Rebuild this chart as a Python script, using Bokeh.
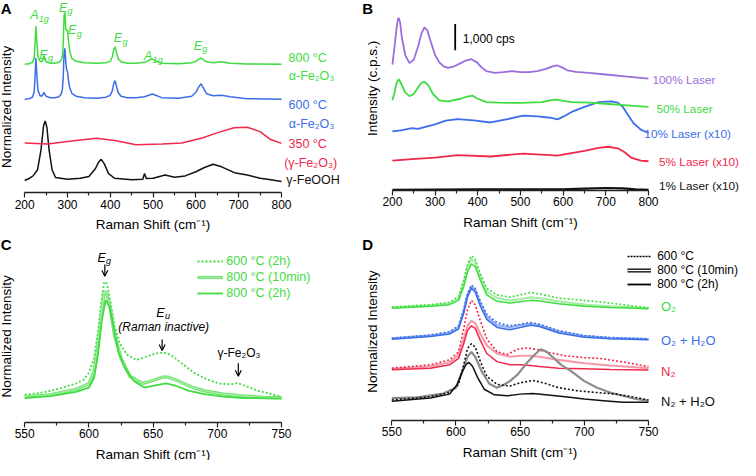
import math
from bokeh.plotting import figure
from bokeh.models import Label, Arrow, OpenHead, Legend, LegendItem, FixedTicker, Range1d
from bokeh.layouts import column, row
from bokeh.embed import file_html
from bokeh.resources import INLINE

FONT = "Liberation Sans"
GREEN = "#3fdc3f"; BLUE = "#3c6ee8"; RED = "#f0284a"; PURPLE = "#9b6edc"; BLACK = "#111111"
LGREEN = "#a6eea6"; LBLUE = "#8fb0f2"; LRED = "#f59aab"; GREY = "#8c8c8c"

# ---------------- Panel A data (normalized intensity, relative to each trace's baseline) ----
a_x_hem = [200, 210, 218, 222, 224, 226, 228, 231, 236, 240, 243, 245, 247, 250, 260, 270, 280, 285, 288, 290,
           292, 294, 296, 298, 300, 302, 305, 310, 320, 340, 370, 390, 400, 405, 408, 411, 414, 418, 425, 440,
           460, 480, 490, 498, 506, 520, 560, 590, 600, 606, 612, 618, 625, 640, 660, 680, 720, 800]
a_i_800 = [0, 0.5, 2, 6, 18, 39, 26, 8, 3, 2.5, 5, 9, 5, 2.5, 1, 1, 2, 4, 8, 20,
           50, 53, 36, 34, 35, 25, 14, 6, 3, 1.5, 1, 1.5, 3, 8, 15, 18, 13, 6, 2.5, 1,
           1, 2, 4, 5.5, 3.5, 1, 0.5, 1.5, 3, 5, 6.3, 4.5, 2.5, 1.5, 2.5, 1, 0.3, 0]
a_i_600 = [0, 0.5, 2, 7, 20, 42, 28, 9, 3.5, 3, 5, 7, 5, 3, 1.5, 1.5, 2.5, 5, 10, 22,
           48, 52, 38, 30, 28, 20, 12, 6, 3, 1.5, 1, 2, 4, 9, 16, 19, 14, 7, 3, 1.5,
           1.5, 2.5, 4, 5.3, 4, 1.5, 1, 3, 7, 12, 15.7, 11, 5.5, 3.5, 4, 2.5, 0.5, 0]
a_x_350 = [200, 253, 315, 368, 414, 460, 521, 567, 613, 651, 689, 720, 750, 773, 800]
a_i_350 = [0, -1, 2.3, 5, 2.3, -1.7, -1, 0, 5, 10.7, 15.7, 16.3, 11.7, 4, -0.3]
a_x_feooh = [200, 210, 220, 230, 238, 244, 248, 252, 257, 264, 272, 300, 330, 350, 365, 373, 379, 386, 396, 410,
             450, 476, 480, 484, 500, 528, 550, 575, 600, 620, 640, 660, 690, 720, 750, 775, 800]
a_i_feooh = [0, 2, 5, 11, 31, 56, 61, 54, 31, 11, 3, 1.3, 2.3, 4, 12, 19, 21.7, 17, 7, 2.3,
             0.7, 1.3, 7.3, 2, 2.3, 5.7, 3.3, 4.7, 9, 13.3, 16.7, 14, 8, 5.7, 2.3, 0.7, -1]
a_offsets = {"800": 131.7, "600": 96, "350": 51, "feooh": 12.7}

# ---------------- Panel B data (counts per second as displayed) ----------------
b_x_100 = [200, 205, 210, 213, 215, 218, 222, 230, 240, 250, 260, 268, 275, 282, 290, 300, 310, 320, 330, 345,
           360, 372, 385, 398, 410, 420, 440, 460, 480, 500, 520, 540, 560, 575, 585, 595, 610, 630, 660, 700,
           750, 800]
b_c_100 = [4750, 5430, 6170, 6480, 6520, 6360, 5800, 5120, 4810, 4940, 5430, 5930, 6170, 6050, 5620, 5120, 4840, 4690, 4630, 4690,
           4810, 4910, 4960, 4840, 4630, 4510, 4440, 4470, 4510, 4470, 4470, 4510, 4590, 4690, 4730, 4670, 4540, 4480, 4440, 4380,
           4300, 4220]
b_x_50 = [200, 205, 210, 215, 220, 230, 240, 250, 260, 268, 276, 285, 295, 310, 330, 360, 375, 387, 400, 420,
          450, 500, 550, 575, 585, 600, 620, 660, 700, 750, 800]
b_c_50 = [3400, 3700, 4070, 4200, 4050, 3700, 3560, 3640, 3890, 4070, 4100, 3950, 3640, 3400, 3360, 3460, 3540, 3580, 3460, 3330,
          3310, 3300, 3330, 3420, 3430, 3380, 3330, 3310, 3270, 3210, 3150]
b_x_10 = [200, 220, 246, 260, 275, 300, 325, 353, 390, 430, 470, 506, 540, 570, 587, 600, 620, 650, 683, 713,
          728, 740, 752, 765, 782, 800]
b_c_10 = [2220, 2260, 2350, 2320, 2380, 2490, 2630, 2690, 2640, 2560, 2690, 2820, 2790, 2740, 2680, 2780, 2960, 3150, 3330, 3360,
          3310, 3150, 2840, 2530, 2290, 2160]
b_x_5 = [200, 246, 300, 353, 430, 506, 560, 587, 606, 650, 683, 705, 728, 745, 759, 782, 800]
b_c_5 = [1110, 1170, 1230, 1320, 1270, 1380, 1330, 1300, 1360, 1480, 1600, 1640, 1580, 1420, 1230, 1110, 1090]
b_x_1 = [200, 400, 600, 650, 700, 740, 770, 800]
b_c_1 = [10, 25, 25, 50, 75, 60, 25, 10]
b_scale_cps = 1000
CPS_PER_PX = 1000 / 27   # scale-bar calibration of panel B (1,000 cps bar height)

# ---------------- Panel C data ----------------
c_x_600 = [550, 560, 570, 578, 583, 590, 596, 600, 604, 607, 610, 612, 614, 617, 620, 624, 630, 637, 645, 652,
           658, 664, 672, 682, 692, 702, 710, 716, 722, 732, 742, 750]
c_i_600 = [28.3, 29.7, 32.3, 35, 37.3, 39.7, 44, 50.7, 65.7, 92.3, 127.3, 144, 142.3, 122.3, 99, 80.7, 69, 64, 67.3, 70.7,
           71.7, 69, 60.7, 50.7, 44, 39.7, 39, 40.3, 37.3, 32.3, 29, 26.3]
c_x_10m = [550, 570, 590, 600, 604, 607, 610, 612, 614, 617, 620, 625, 632, 642, 650, 657, 662, 670, 680, 690, 705, 720, 735, 750]
c_i_10m = [26.3, 28.3, 34, 39.7, 52.3, 79, 114, 134, 132.3, 114, 89, 65.7, 47, 40, 43, 46.3, 46.3, 42.3, 36.3, 32.3, 29, 27.3, 25.7, 25.3]
c_x_2h = [550, 570, 590, 600, 604, 607, 610, 613, 616, 619, 623, 628, 635, 643, 650, 660, 668, 678, 690, 705, 720, 750]
c_i_2h = [25, 27, 31.3, 35.7, 45.7, 69, 104, 125, 119, 99, 72.3, 55.7, 42.3, 35.7, 37.3, 40, 37.3, 32.3, 29, 26.3, 25, 24.3]
c_legend = ["600 °C (2h)", "800 °C (10min)", "800 °C (2h)"]

# ---------------- Panel D data (stacked normalized intensity) ----------------
d_x20 = [550, 580, 595, 602, 606, 609, 612, 615, 619, 624, 632, 642, 650, 658, 665, 680, 700, 720, 735, 750]
d_x19 = [550, 580, 595, 602, 606, 609, 612, 615, 619, 624, 632, 642, 650, 658, 665, 680, 700, 720, 750]
d_o2_600 = [116, 118.3, 120.7, 126.7, 143.3, 160, 168.3, 165, 150, 135, 128.3, 126, 128.3, 130.7, 129.3, 125, 122.7, 120, 117.3, 115]
d_o2_10m = [115.3, 117.3, 119.3, 124, 140, 156.7, 165, 161.7, 146.7, 131.7, 125, 122.7, 124, 125.7, 125, 121.7, 118.3, 116.7, 114.7]
d_o2_2h = [114.7, 116.7, 118.3, 122.7, 136.7, 151.7, 160, 157.3, 143.3, 128.3, 121.7, 120, 121.3, 122.7, 122, 119.3, 116.7, 115.3, 114]
d_o2w_600 = [84, 87.3, 90.7, 96.7, 113.3, 130, 138.3, 135, 121.7, 108.3, 100, 96.7, 98.3, 100, 98.3, 91.7, 86.7, 84.7, 83.3]
d_o2w_10m = [83.7, 86.7, 89.3, 95, 111.7, 128.3, 136.7, 133.3, 119.3, 106, 97.3, 95, 97.3, 98.7, 97.3, 90.7, 86, 84, 83]
d_o2w_2h = [83, 85.7, 88.3, 93.3, 109.3, 126, 135, 131.3, 116.7, 103.3, 95, 92.7, 95, 97.3, 96, 89.3, 85, 83.3, 82.3]
d_x_n2_600 = [550, 580, 595, 602, 606, 609, 612, 615, 619, 624, 632, 640, 648, 655, 662, 670, 685, 700, 712, 725, 740, 750]
d_n2_600 = [53.3, 56.7, 61.7, 70, 93.3, 113.3, 122.7, 118.3, 101.7, 83.3, 70, 67.3, 72.7, 74, 72.7, 70, 66, 64, 63.3, 60.7, 57.3, 55]
d_n2_10m = [52.7, 55, 59.3, 66.7, 83.3, 96.7, 101.7, 99.3, 88.3, 76.7, 68.3, 65, 66, 66, 65, 61.7, 58.3, 56, 53.3]
d_n2_2h = [51.7, 53.3, 56.7, 63.3, 78.3, 91.7, 96.7, 94, 81.7, 68.3, 60, 56.7, 56.7, 56, 55, 53.3, 52.7, 52, 51.3]
d_x_n2w_600 = [550, 580, 595, 602, 606, 609, 612, 615, 619, 624, 632, 642, 650, 660, 668, 680, 695, 710, 725, 740, 750]
d_n2w_600 = [20.7, 24, 28.3, 36.7, 56.7, 73.3, 78.3, 75, 60, 45, 36.7, 35, 38.3, 40.7, 38.3, 33.3, 30, 28.3, 26.7, 23.3, 20.7]
d_x_n2w_10m = [550, 570, 590, 600, 605, 609, 612, 615, 620, 626, 632, 637, 642, 648, 655, 661, 666, 670, 675, 682,
               690, 700, 710, 720, 730, 740, 750]
d_n2w_10m = [22.7, 23.3, 27.3, 33.3, 50, 65, 70, 65, 50, 37.3, 33.3, 36, 40, 46.7, 58.3, 66.7, 72.7, 70.7, 65, 56.7,
             50, 40, 33.3, 28.3, 25, 21.7, 20]
d_x_n2w_2h = [550, 580, 595, 601, 605, 608, 610, 613, 617, 622, 630, 640, 650, 660, 670, 685, 700, 715, 730, 750]
d_n2w_2h = [19.3, 22.7, 26.7, 36.7, 50, 57.3, 59.3, 55, 43.3, 31.7, 26, 25, 26.7, 27.3, 26, 24, 21.7, 20, 18.3, 18.3]
d_legend = ["600 °C", "800 °C (10min)", "800 °C (2h)"]

# ---------------- layout helpers ----------------
# mapping of reference-picture pixels to our 740x460 canvas
SX, OX0 = 740 / 754, 2
SY, OY0 = 460 / 471, 3


def make_panel(x0, x1, y1, col0, row0, W, H, L, R, B, majors, minors):
    # the frame covers the whole figure; x0..x1 sit at local px L..R, y=0 at local px B (axis), y1 at top
    ux = (x1 - x0) / (R - L)
    uy = y1 / B
    xr0, xr1 = x0 - L * ux, x1 + (W - R) * ux
    yr0 = -(H - B) * uy
    g = dict(xr0=xr0, xr1=xr1, yr1=y1, ux=ux, uy=uy, col0=col0, row0=row0, H=H)
    p = figure(frame_width=W, frame_height=H, x_range=Range1d(xr0, xr1), y_range=Range1d(yr0, y1),
               output_backend="svg", toolbar_location=None, y_axis_location=None,
               min_border_left=0, min_border_right=0, min_border_top=0, min_border_bottom=0)
    p.outline_line_color = None
    p.grid.grid_line_color = None
    ax = p.xaxis[0]
    ax.fixed_location = 0
    ax.bounds = (x0, x1)
    ax.ticker = FixedTicker(ticks=majors, minor_ticks=minors)
    ax.axis_label = "Raman Shift (cm⁻¹)"
    ax.axis_label_text_font = FONT
    ax.axis_label_text_font_size = "13.5px"
    ax.axis_label_text_font_style = "normal"
    ax.axis_label_text_color = "black"
    ax.major_label_text_font = FONT
    ax.major_label_text_font_size = "12px"
    ax.major_label_text_color = "black"
    ax.major_tick_in = 0
    ax.major_tick_out = 5
    ax.minor_tick_in = 0
    ax.minor_tick_out = 3
    ax.axis_line_width = 1.5
    ax.axis_line_color = "#222222"
    ax.major_tick_line_width = 1.2
    ax.minor_tick_line_width = 1.2
    ax.major_tick_line_color = "#222222"
    ax.minor_tick_line_color = "#222222"
    ax.major_label_standoff = 2
    ax.axis_label_standoff = 5
    return p, g


def cxy(g, ox, oy):
    return (ox - OX0) * SX - g["col0"], (oy - OY0) * SY - g["row0"]


def to_data(g, ox, oy):
    cx, cy = cxy(g, ox, oy)
    return g["xr0"] + cx * g["ux"], g["yr1"] - cy * g["uy"]


def lab(p, g, text, ox, oy, color, size="12px", align="center", style="normal", angle=0.0):
    x, y = to_data(g, ox, oy)
    p.add_layout(Label(x=x, y=y, text=text, text_color=color, text_font=FONT, text_font_size=size,
                       text_align=align, text_baseline="middle", text_font_style=style, angle=angle))


def sublab(p, g, main, sub, ox, oy, color):
    lab(p, g, main, ox, oy, color, size="12.5px", align="right", style="italic")
    lab(p, g, sub, ox + 0.3, oy + 3.5, color, size="9px", align="left", style="italic")


def arrow(p, g, ox, oy0, oy1):
    xs, ys = to_data(g, ox, oy0)
    xe, ye = to_data(g, ox, oy1)
    p.add_layout(Arrow(x_start=xs, y_start=ys, x_end=xe, y_end=ye, line_width=1.2, line_color="black",
                       end=OpenHead(size=6, line_width=1.2, line_color="black")))


def legend_loc(g, ox, oy_bottom):
    # legend location is measured from the frame's bottom-left corner
    cx, cy = cxy(g, ox, oy_bottom)
    return (cx, g["H"] - cy)


def proxy(p, g, **kw):
    # legend-only line placed outside the visible ranges
    x = g["xr1"] + 10
    return p.line([x, x + 1], [0, 0], **kw)


maj_ab = [200, 300, 400, 500, 600, 700, 800]
min_ab = [250, 350, 450, 550, 650, 750]
maj_cd = [550, 600, 650, 700, 750]
min_cd = [575, 625, 675, 725]

# ---------------- Panel A ----------------
pA, gA = make_panel(200, 800, 197, 0, 0, 360, 232, 24.2, 281.0, 192.4, maj_ab, min_ab)
pA.line(a_x_feooh, [v + a_offsets["feooh"] for v in a_i_feooh], line_color=BLACK, line_width=1.5)
pA.line(a_x_350, [v + a_offsets["350"] for v in a_i_350], line_color=RED, line_width=1.5)
pA.line(a_x_hem, [v + a_offsets["600"] for v in a_i_600], line_color=BLUE, line_width=1.5)
pA.line(a_x_hem, [v + a_offsets["800"] for v in a_i_800], line_color=GREEN, line_width=1.5)
for m, s, ox, oy in [("A", "1g", 40.7, 18.3), ("E", "g", 50, 58.3), ("E", "g", 70, 10.5), ("E", "g", 79.3, 33.5),
                     ("E", "g", 126, 41.7), ("A", "1g", 156.7, 60), ("E", "g", 207.3, 49.5)]:
    sublab(pA, gA, m, s, ox, oy, GREEN)
for t, ox, oy, c in [("800 °C", 315, 62, GREEN), ("α-Fe₂O₃", 319, 80.5, GREEN),
                     ("600 °C", 315, 110, BLUE), ("α-Fe₂O₃", 319, 129, BLUE),
                     ("350 °C", 315, 150, RED), ("(γ-Fe₂O₃)", 318, 169, RED),
                     ("γ-FeOOH", 320.5, 187, BLACK)]:
    lab(pA, gA, t, ox, oy, c, size="12.5px")
lab(pA, gA, "Normalized Intensity", 8.5, 112, "black", size="13.5px", angle=math.pi / 2)
lab(pA, gA, "A", 7.7, 11.3, "black", size="15px", style="bold")

# ---------------- Panel B ----------------
pB, gB = make_panel(200, 800, 194 * CPS_PER_PX, 360, 0, 380, 232, 31.9, 288.0, 189.5, maj_ab, min_ab)
pB.line(b_x_1, b_c_1, line_color=BLACK, line_width=2.2)
pB.line(b_x_5, b_c_5, line_color=RED, line_width=1.8)
pB.line(b_x_10, b_c_10, line_color=BLUE, line_width=1.8)
pB.line(b_x_50, b_c_50, line_color=GREEN, line_width=1.8)
pB.line(b_x_100, b_c_100, line_color=PURPLE, line_width=1.8)
bx, by = to_data(gB, 465.3, 54)
pB.segment(x0=[bx], y0=[by], x1=[bx], y1=[by + b_scale_cps], line_color="black", line_width=1.8)
lab(pB, gB, "1,000 cps", 473, 42, "black", size="12px", align="left")
for t, ox, oy, c in [("100% Laser", 666.3, 84.3, PURPLE), ("50% Laser", 670.3, 114, GREEN),
                     ("10% Laser (x10)", 658, 139.3, BLUE), ("5% Laser (x10)", 673, 168.3, RED),
                     ("1% Laser (x10)", 673, 192.7, BLACK)]:
    lab(pB, gB, t, ox, oy, c, size="11.8px", align="left")
lab(pB, gB, "Intensity (c.p.s.)", 381, 93, "black", size="13.5px", angle=math.pi / 2)
lab(pB, gB, "B", 376, 11.3, "black", size="15px", style="bold")

# ---------------- Panel C ----------------
pC, gC = make_panel(550, 750, 194.5, 0, 232, 360, 228, 24.2, 281.0, 189.9, maj_cd, min_cd)
rc1 = pC.line(c_x_600, c_i_600, line_color=GREEN, line_width=1.8, line_dash="2 2")
rc2a = pC.line(c_x_10m, c_i_10m, line_color="#6fe06f", line_width=3.2)
rc2b = pC.line(c_x_10m, c_i_10m, line_color=LGREEN, line_width=1.3)
rc3 = pC.line(c_x_2h, c_i_2h, line_color=GREEN, line_width=1.8)
legC = Legend(items=[LegendItem(label=c_legend[0], renderers=[rc1]),
                     LegendItem(label=c_legend[1], renderers=[rc2a, rc2b]),
                     LegendItem(label=c_legend[2], renderers=[rc3])],
              location=legend_loc(gC, 203, 311), glyph_width=26, glyph_height=16, label_height=16, label_standoff=3,
              spacing=0, padding=0, margin=0, border_line_color=None, background_fill_alpha=0,
              label_text_font=FONT, label_text_font_size="12.5px", label_text_color=GREEN)
pC.add_layout(legC)
sublab(pC, gC, "E", "g", 109.3, 266.5, "black")
arrow(pC, gC, 108.3, 273.3, 285.3)
sublab(pC, gC, "E", "u", 169.3, 322.7, "black")
lab(pC, gC, "(Raman inactive)", 168.3, 337.7, "black", size="12px", style="italic")
arrow(pC, gC, 166.7, 350, 361.3)
lab(pC, gC, "γ-Fe₂O₃", 245, 364.3, "black", size="12px")
arrow(pC, gC, 244.3, 374.3, 387.7)
lab(pC, gC, "Normalized Intensity", 8.5, 347, "black", size="13.5px", angle=math.pi / 2)
lab(pC, gC, "C", 7.7, 252.7, "black", size="15px", style="bold")

# ---------------- Panel D ----------------
pD, gD = make_panel(550, 750, 192.2, 360, 232, 380, 228, 31.3, 288.0, 187.7, maj_cd, min_cd)
groups = [
    (d_x20, d_o2_600, d_x19, d_o2_10m, d_x19, d_o2_2h, GREEN, LGREEN),
    (d_x19, d_o2w_600, d_x19, d_o2w_10m, d_x19, d_o2w_2h, BLUE, LBLUE),
    (d_x_n2_600, d_n2_600, d_x19, d_n2_10m, d_x19, d_n2_2h, RED, LRED),
    (d_x_n2w_600, d_n2w_600, d_x_n2w_10m, d_n2w_10m, d_x_n2w_2h, d_n2w_2h, BLACK, GREY),
]
for xa, ya, xb, yb, xc, yc, col, lcol in groups:
    pD.line(xb, yb, line_color=lcol, line_width=2.2)
    pD.line(xc, yc, line_color=col, line_width=1.5)
    pD.line(xa, ya, line_color=col, line_width=1.6, line_dash="2 2")
ld1 = proxy(pD, gD, line_color="black", line_width=1.4, line_dash="2 1")
ld2a = proxy(pD, gD, line_color="black", line_width=4)
ld2b = proxy(pD, gD, line_color="white", line_width=1.4)
ld3 = proxy(pD, gD, line_color="black", line_width=1.8)
legD = Legend(items=[LegendItem(label=d_legend[0], renderers=[ld1]),
                     LegendItem(label=d_legend[1], renderers=[ld2a, ld2b]),
                     LegendItem(label=d_legend[2], renderers=[ld3])],
              location=legend_loc(gD, 641, 301), glyph_width=24, glyph_height=14, label_height=14, label_standoff=6,
              spacing=0, padding=0, margin=0, border_line_color=None, background_fill_alpha=0,
              label_text_font=FONT, label_text_font_size="12px", label_text_color="black")
pD.add_layout(legD)
for t, ox, oy, c in [("O₂", 675, 316.5, GREEN), ("O₂ + H₂O", 675, 351.3, BLUE),
                     ("N₂", 675, 382.7, RED), ("N₂ + H₂O", 675, 413.2, BLACK)]:
    lab(pD, gD, t, ox, oy, c, size="13px", align="left")
lab(pD, gD, "Normalized Intensity", 381, 342, "black", size="13.5px", angle=math.pi / 2)
lab(pD, gD, "D", 376, 252.7, "black", size="15px", style="bold")

layout = column(row(pA, pB), row(pC, pD))
open("out.html", "w").write(file_html(layout, INLINE))
